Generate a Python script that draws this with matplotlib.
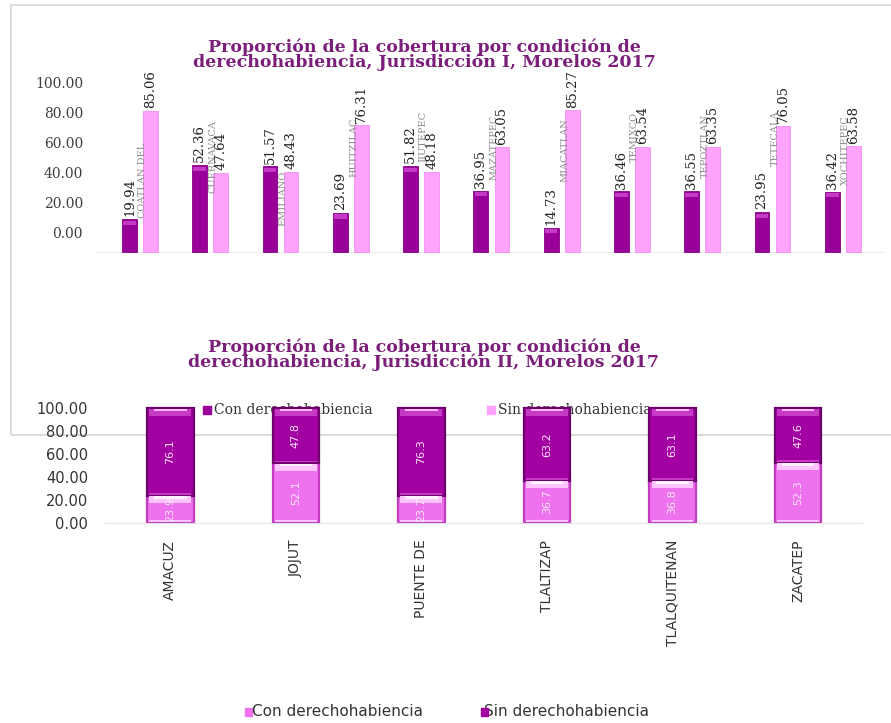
import matplotlib
matplotlib.use("Agg")
import matplotlib.pyplot as plt
from matplotlib.patches import Rectangle

# ---------------- data ----------------
# Jurisdicción I (grouped bars)
munis_1 = ["COATLAN DEL", "CUERNAVACA", "EMILIANO", "HUITZILAC", "JIUTEPEC",
           "MAZATEPEC", "MIACATLAN", "TEMIXCO", "TEPOZTLAN", "TETECALA", "XOCHITEPEC"]
con_1 = [19.94, 52.36, 51.57, 23.69, 51.82, 36.95, 14.73, 36.46, 36.55, 23.95, 36.42]
sin_1 = [85.06, 47.64, 48.43, 76.31, 48.18, 63.05, 85.27, 63.54, 63.35, 76.05, 63.58]

# Jurisdicción II (stacked bars)
munis_2 = ["AMACUZ", "JOJUT", "PUENTE DE", "TLALTIZAP", "TLALQUITENAN", "ZACATEP"]
con_2 = [23.9, 52.1, 23.7, 36.7, 36.8, 52.3]
sin_2 = [76.1, 47.8, 76.3, 63.2, 63.1, 47.6]

y_ticks = [0, 20, 40, 60, 80, 100]

title_1 = "Proporción de la cobertura por condición de\nderechohabiencia, Jurisdicción I, Morelos 2017"
title_2 = "Proporción de la cobertura por condición de\nderechohabiencia, Jurisdicción II, Morelos 2017"
leg_con = "Con derechohabiencia"
leg_sin = "Sin derechohabiencia"

# ---------------- styling ----------------
W, H = 891, 723
TITLE_C = "#7B1F7B"
DARK = "#990099"
PINK = "#FFA3FF"
SERIF = "DejaVu Serif"
SANS = "DejaVu Sans"

fig = plt.figure(figsize=(W / 100, H / 100), dpi=100)
fig.patch.set_facecolor("white")


def px_axes(x0, y0, x1, y1):
    """Axes placed by pixel box (top-left origin)."""
    return fig.add_axes([x0 / W, 1 - y1 / H, (x1 - x0) / W, (y1 - y0) / H])


def fx(x):
    return x / W


def fy(y):
    return 1 - y / H


# ================= upper chart (Jurisdicción I) =================
# tick-label column
axt = px_axes(90, 82, 91, 233)
axt.set_ylim(0, 100)
axt.set_yticks(y_ticks)
axt.set_yticklabels([f"{v:.2f}" for v in y_ticks], fontfamily=SERIF,
                    fontsize=10, color="#404040")
axt.tick_params(axis="y", length=0, pad=5)
axt.set_xticks([])
for s in axt.spines.values():
    s.set_visible(False)
axt.patch.set_alpha(0)

ax1 = px_axes(95, 55, 885, 255)
ax1.patch.set_alpha(0)
ax1.set_xlim(-0.64, 10.6)
ax1.set_ylim(-1.8, 118.7)
for s in ax1.spines.values():
    s.set_visible(False)
ax1.set_xticks([])
ax1.set_yticks([])

# frame of the upper chart
ax1.add_patch(Rectangle((fx(11), fy(435)), fx(900) - fx(11), fy(5) - fy(435),
                        transform=fig.transFigure, fill=False,
                        edgecolor="#D4D4D4", linewidth=1.2, clip_on=False))

bw = 0.21
off = 0.15
xs1 = list(range(len(munis_1)))
ax1.bar([x - off for x in xs1], con_1, bw, color=DARK, edgecolor="#860086",
        linewidth=0.6, zorder=2)
ax1.bar([x - off for x in xs1], [2.5] * len(xs1), bw * 0.85,
        bottom=[v - 3.5 for v in con_1], color="#C43AC4", linewidth=0, zorder=3)
ax1.bar([x + off for x in xs1], sin_1, bw, color=PINK, edgecolor="#F58CF5",
        linewidth=0.6, zorder=2)
ax1.axhline(0, color="#EEEEEE", linewidth=0.8, zorder=1)

for x, v in zip(xs1, con_1):
    ax1.annotate(f"{v:.2f}", (x - off, v), xytext=(0, 2), textcoords="offset points",
                 rotation=90, ha="center", va="bottom", fontfamily=SERIF,
                 fontsize=9.5, color="#222222", zorder=5)
for x, v in zip(xs1, sin_1):
    ax1.annotate(f"{v:.2f}", (x + off, v), xytext=(0, 2), textcoords="offset points",
                 rotation=90, ha="center", va="bottom", fontfamily=SERIF,
                 fontsize=9.5, color="#222222", zorder=5)

# municipality names drawn inside the plot area
name_y_px = [180, 157, 198, 147, 137, 147, 150, 137, 146, 138, 150]
for x, name, py in zip(xs1, munis_1, name_y_px):
    ax1.text(x + 0.04, (252 - py) / 1.66, name, rotation=90, ha="center",
             va="center", fontfamily=SERIF, fontsize=7, color="#8A8A8A", zorder=4)

ax1.text(fx(424), fy(54.5), title_1, transform=fig.transFigure, ha="center",
         va="center", fontfamily=SERIF, fontweight="bold", fontsize=12.5,
         color=TITLE_C, linespacing=0.8)

# legend of the upper chart
ax1.add_patch(Rectangle((fx(203), fy(414)), fx(8), 8 / H, transform=fig.transFigure,
                        color=DARK, clip_on=False))
ax1.text(fx(214), fy(410), leg_con, transform=fig.transFigure, ha="left",
         va="center", fontfamily=SERIF, fontsize=10, color="#333333")
ax1.add_patch(Rectangle((fx(487), fy(414)), fx(8), 8 / H, transform=fig.transFigure,
                        color=PINK, clip_on=False))
ax1.text(fx(498), fy(410), leg_sin, transform=fig.transFigure, ha="left",
         va="center", fontfamily=SERIF, fontsize=10, color="#333333")

# ================= lower chart (Jurisdicción II) =================
ax2 = px_axes(105, 400, 862, 523)
ax2.patch.set_alpha(0)
ax2.set_xlim(-0.52, 5.51)
ax2.set_ylim(0, 107)
for k in ("top", "right", "left"):
    ax2.spines[k].set_visible(False)
ax2.spines["bottom"].set_color("#E4E4E4")
ax2.spines["bottom"].set_linewidth(0.8)
ax2.set_yticks(y_ticks)
ax2.set_yticklabels([f"{v:.2f}" for v in y_ticks], fontfamily=SANS,
                    fontsize=10.5, color="#333333")
ax2.tick_params(axis="y", length=0, pad=12)
xs2 = list(range(len(munis_2)))
ax2.set_xticks(xs2)
ax2.set_xticklabels(munis_2, rotation=90, fontfamily=SANS, fontsize=10,
                    color="#333333", va="top")
ax2.tick_params(axis="x", length=0, pad=12)

bw2 = 0.37
P2 = "#EE72EE"
D2 = "#A300A3"


def segment(ax, x, bottom, height, face, edge, cap, glow):
    ax.bar(x, height, bw2, bottom=bottom, color=face, edgecolor=edge,
           linewidth=1.6, zorder=2)
    top = bottom + height
    ax.bar(x, 6, bw2 * 0.9, bottom=top - 6.5, color=cap, linewidth=0, zorder=3)
    ax.bar(x, 2.2, bw2 * 0.7, bottom=top - 2.6, color=glow, linewidth=0, zorder=4)
    ax.bar(x, 1.6, bw2 * 0.9, bottom=bottom + 0.6, color=cap, linewidth=0, zorder=3)


for x, c, s in zip(xs2, con_2, sin_2):
    segment(ax2, x, 0, c, P2, "#C23CC2", "#FFC4FF", "#FFF0FF")
    segment(ax2, x, c, s, D2, "#6E006E", "#C63AC6", "#FFB8FF")
    ax2.text(x, c / 2, f"{c:.1f}", rotation=90, ha="center", va="center",
             fontfamily=SANS, fontsize=8, color="#FBE6FB", zorder=5)
    ax2.text(x, c + s / 2, f"{s:.1f}", rotation=90, ha="center", va="center",
             fontfamily=SANS, fontsize=8, color="#FBE6FB", zorder=5)

ax2.text(fx(424), fy(354.5), title_2, transform=fig.transFigure, ha="center",
         va="center", fontfamily=SERIF, fontweight="bold", fontsize=12.5,
         color=TITLE_C, linespacing=0.8)

# legend at the bottom
ax2.add_patch(Rectangle((fx(245), fy(716)), fx(7), 8 / H, transform=fig.transFigure,
                        color=P2, clip_on=False))
ax2.text(fx(252), fy(712), leg_con, transform=fig.transFigure, ha="left",
         va="center", fontfamily=SANS, fontsize=11, color="#333333")
ax2.add_patch(Rectangle((fx(481), fy(716)), fx(7), 8 / H, transform=fig.transFigure,
                        color=D2, clip_on=False, zorder=6))
ax2.text(fx(484), fy(712), leg_sin, transform=fig.transFigure, ha="left",
         va="center", fontfamily=SANS, fontsize=11, color="#333333")

fig.savefig("out.png", dpi=100)
